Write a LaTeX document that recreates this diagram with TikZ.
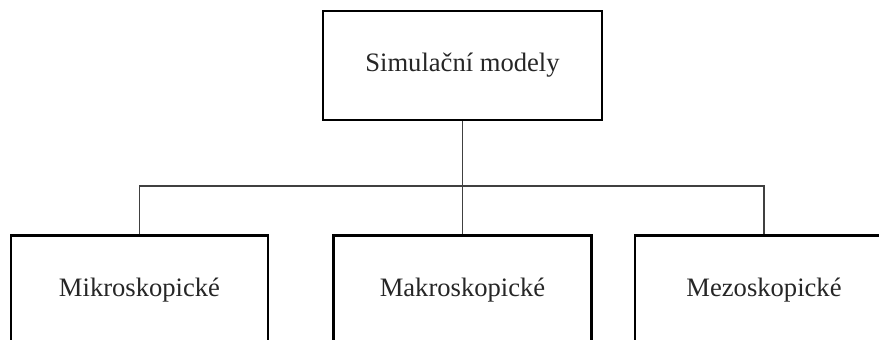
\documentclass[tikz,border=0pt]{standalone}
\usepackage{fontspec}
\setmainfont{Liberation Serif}
\begin{document}
\begin{tikzpicture}[x=1pt,y=1pt,
  box/.style={draw=black,line width=2.4pt,fill=white,inner sep=0pt,
    minimum width=257pt,minimum height=109pt,
    font=\fontsize{26.6}{30}\selectfont,text=black!85},
  link/.style={draw=black!75,line width=1.3pt}]
\useasboundingbox (0,0) rectangle (879,340);
\clip (0,0) rectangle (879,340);
\coordinate (bus) at (462.5,154);
\node[box,minimum width=279pt] (top) at (462.5,274.5) {Simulační modely};
\node[box] (mik) at (139.5,50) {Mikroskopické};
\node[box,minimum width=258pt] (mak) at (462.5,50) {Makroskopické};
\node[box,minimum width=258pt] (mez) at (764,50) {Mezoskopické};
\draw[link] (top.south) -- (bus) -- (mak.north);
\draw[link] (mik.north) |- (bus) -| (mez.north);
\end{tikzpicture}
\end{document}
